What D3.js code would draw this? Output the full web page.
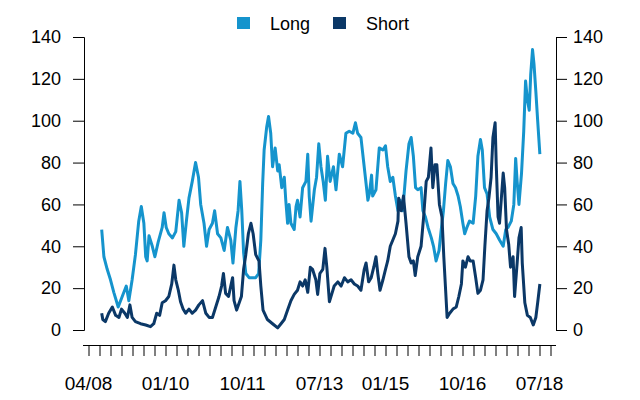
<!DOCTYPE html>
<html>
<head>
<meta charset="utf-8">
<script src="https://cdn.jsdelivr.net/npm/d3@7/dist/d3.min.js"></script>
<style>
  body { margin: 0; background: #fff; }
  svg { display: block; font-family: "Liberation Sans", Arial, sans-serif; }
</style>
</head>
<body>
<div id="chart"></div>
<script>
// x values are months since 04/08
var longData = [
  [3.6,48],[4.2,35],[5.1,29],[6.0,24],[6.9,18],[8.1,11],[9.2,16],[10.3,21],[11.0,14],[11.9,24],
  [12.8,36],[13.7,52],[14.4,59],[15.1,51],[15.6,35],[16.0,33],[16.5,45],[17.4,40],[18.1,35],[19.0,42],
  [20.1,49],[20.6,56],[21.2,49],[21.9,46],[22.9,44],[23.8,47],[24.7,62],[25.4,56],[26.0,40],[26.7,52],
  [27.4,63],[28.3,71],[29.2,80],[30.0,73],[30.6,60],[31.5,51],[32.2,40],[32.9,48],[33.8,51],[34.4,57],
  [35.2,46],[36.1,44],[37.0,38],[37.9,49],[38.8,43],[39.4,32],[40.2,49],[40.8,57],[41.3,71],[41.8,57],
  [42.3,37],[42.9,27],[43.8,25],[45.2,25],[45.6,25],[46.4,27],[47.0,43],[47.5,70],[47.9,86],[48.6,97],
  [49.1,102],[49.7,94],[50.2,78],[50.9,87],[51.6,76],[52.0,79],[52.7,68],[53.4,73],[53.8,62],[54.3,51],
  [54.7,60],[55.2,51],[56.1,48],[56.6,59],[57.0,62],[57.7,54],[58.4,68],[59.3,71],[59.8,84],[60.2,64],
  [60.7,52],[61.6,67],[62.2,73],[62.8,89],[63.4,78],[64.0,71],[64.6,62],[65.2,83],[65.9,71],[66.8,78],
  [67.5,67],[68.4,84],[69.3,78],[70.2,94],[71.1,95],[72.1,94],[72.8,99],[73.4,94],[74.3,92],[75.0,81],
  [75.7,70],[76.2,62],[76.6,65],[77.2,74],[77.5,64],[78.4,67],[79.3,87],[80.3,86],[81.0,88],[81.6,78],
  [82.3,71],[83.0,73],[83.7,64],[84.4,57],[85.0,62],[85.7,57],[86.6,76],[87.4,89],[88.0,92],[88.6,83],
  [89.2,68],[89.8,67],[90.7,68],[91.2,57],[91.9,54],[92.6,49],[93.5,44],[94.1,40],[94.8,33],[95.6,38],
  [96.2,48],[96.8,57],[97.4,70],[98.0,81],[98.7,78],[99.4,70],[100.1,68],[100.8,64],[101.4,59],[102.1,51],
  [102.6,46],[103.2,49],[103.9,52],[104.9,51],[105.6,64],[106.2,83],[106.9,91],[107.4,86],[108.0,68],[108.7,65],
  [109.4,54],[110.3,48],[111.2,46],[112.1,43],[113.1,40],[113.8,48],[114.4,49],[115.3,52],[116.0,60],[116.5,82],
  [116.9,71],[117.4,60],[118.1,75],[118.7,95],[119.2,119],[119.7,110],[120.2,105],[120.6,122],[121.1,134],[121.5,127],
  [122.0,114],[122.5,100],[123.1,84]
];

var shortData = [
  [3.6,8],[3.9,5],[4.6,4],[5.5,8],[6.5,11],[7.4,7],[8.3,6],[9.0,10],[9.9,8],[10.6,6],
  [11.3,12],[11.9,6],[12.8,4],[14.2,3],[15.6,2.4],[16.9,1.6],[17.8,3],[18.6,8],[19.4,7],[20.1,13],
  [21.0,14],[21.9,16],[22.7,22],[23.3,31],[23.8,24],[24.5,19],[25.1,13.5],[25.8,10],[26.5,8],[27.4,10],
  [28.3,8],[29.2,9.5],[30.1,12],[31.1,14],[32.0,8],[32.9,6],[33.8,6],[34.7,11],[35.6,16],[36.3,21],
  [36.8,27],[37.4,17.5],[38.2,16],[38.8,21],[39.3,25],[39.7,14],[40.4,9.5],[41.1,13],[41.7,16],[42.3,29],
  [42.9,36],[43.6,46],[44.3,51],[44.9,46],[45.6,36],[46.5,33],[47.0,21],[47.6,9.5],[48.8,5],[50.2,3],
  [51.6,1],[52.5,3],[53.4,5],[54.3,9.5],[55.2,14],[56.1,17],[57.0,19],[57.7,23],[58.4,21],[59.1,24],
  [59.8,18],[60.5,30],[61.1,29],[62.0,24],[62.5,17],[63.1,27],[63.9,29],[64.5,39],[65.0,30],[65.7,13.5],
  [66.4,17.5],[67.0,21],[68.0,23],[68.9,21],[69.8,25],[70.7,23],[71.6,24],[72.5,22],[73.4,21],[74.3,19],
  [75.2,29],[75.7,32],[76.4,23],[77.1,25],[77.8,30],[78.4,35],[78.9,27],[79.5,19],[80.3,24],[81.0,29],
  [81.6,33],[82.3,40],[83.0,43],[83.7,46],[84.4,52],[84.6,63],[85.3,57],[85.9,64],[86.6,51],[87.4,35],
  [88.0,32],[88.6,33],[89.1,26],[89.8,35],[90.7,40],[91.4,54],[92.1,71],[92.7,73],[93.4,87],[93.9,68],
  [94.5,79],[95.0,79],[95.7,60],[96.4,54],[96.9,35],[97.4,19],[97.8,6],[98.5,8],[99.4,10],[100.3,11],
  [101.0,16],[101.7,22],[102.1,33],[102.8,30],[103.5,35],[104.1,33],[104.9,33],[105.6,25],[106.2,17.5],[106.9,19],
  [107.6,24],[108.1,40],[108.7,57],[109.2,63],[109.8,73],[110.3,92],[110.9,99],[111.2,79],[111.7,54],[112.1,51],
  [112.6,63],[113.1,75],[113.5,68],[114.0,48],[114.6,41],[115.1,30],[115.8,35],[116.2,16],[116.9,32],[117.4,44],
  [118.0,49],[118.3,32],[119.0,13],[119.7,7],[120.5,6],[121.3,2.4],[122.0,6],[122.5,13],[123.1,22]
];

var yTicks = [0, 20, 40, 60, 80, 100, 120, 140];
var quarterTicks = d3.range(0, 127, 3);           // quarterly ticks, 04/08 .. 10/18
var labelMonths = [0, 21, 42, 63, 81, 102, 123];
var labelTexts = ["04/08", "01/10", "10/11", "07/13", "01/15", "10/16", "07/18"];

var seriesNames = ["Long", "Short"];
var seriesColors = ["#1594cd", "#0b3867"];

var width = 640, height = 400;

var svg = d3.select("#chart").append("svg")
    .attr("width", width)
    .attr("height", height);

var x = d3.scaleLinear().domain([0, 126]).range([88.5, 550.5]);
var y = d3.scaleLinear().domain([0, 140]).range([330, 37]);

// left and right value axes
var yLeft = d3.axisLeft(y).tickValues(yTicks).tickSize(11).tickPadding(12);
var yRight = d3.axisRight(y).tickValues(yTicks).tickSize(11).tickPadding(6);

svg.append("g")
    .attr("class", "y axis left")
    .attr("transform", "translate(84,0)")
    .call(yLeft);

svg.append("g")
    .attr("class", "y axis right")
    .attr("transform", "translate(556,0)")
    .call(yRight);

// time axis below the plot
var xAxis = d3.axisBottom(x)
    .tickValues(quarterTicks)
    .tickSize(11)
    .tickPadding(0)
    .tickFormat(function(d){ return ""; });

var gx = svg.append("g")
    .attr("class", "x axis")
    .attr("transform", "translate(0,345)")
    .call(xAxis);
gx.select(".domain").attr("d", "M83,0.5H556");

svg.selectAll(".x-label")
    .data(labelMonths)
    .enter().append("text")
    .attr("class", "x-label")
    .attr("x", function(d){ return x(d); })
    .attr("y", 390)
    .attr("text-anchor", "middle")
    .text(function(d, i){ return labelTexts[i]; });

svg.selectAll(".axis text").attr("font-size", 18).attr("fill", "#000");
svg.selectAll(".x-label").attr("font-size", 19).attr("fill", "#000");
svg.selectAll(".axis path, .axis line").attr("stroke", "#000").attr("stroke-width", 1);

// data lines
var line = d3.line()
    .x(function(d){ return x(d[0]); })
    .y(function(d){ return y(d[1]); });

[longData, shortData].forEach(function(data, i){
    svg.append("path")
        .attr("d", line(data))
        .attr("fill", "none")
        .attr("stroke", seriesColors[i])
        .attr("stroke-width", 3)
        .attr("stroke-linejoin", "round");
});

// legend
var legendX = [237, 333];
var legend = svg.selectAll(".legend")
    .data(seriesNames)
    .enter().append("g")
    .attr("class", "legend")
    .attr("transform", function(d, i){ return "translate(" + legendX[i] + ",17)"; });

legend.append("rect")
    .attr("width", 13)
    .attr("height", 12)
    .attr("fill", function(d, i){ return seriesColors[i]; });

legend.append("text")
    .attr("x", 33)
    .attr("y", 13)
    .attr("font-size", 18)
    .text(function(d){ return d; });
</script>
</body>
</html>
